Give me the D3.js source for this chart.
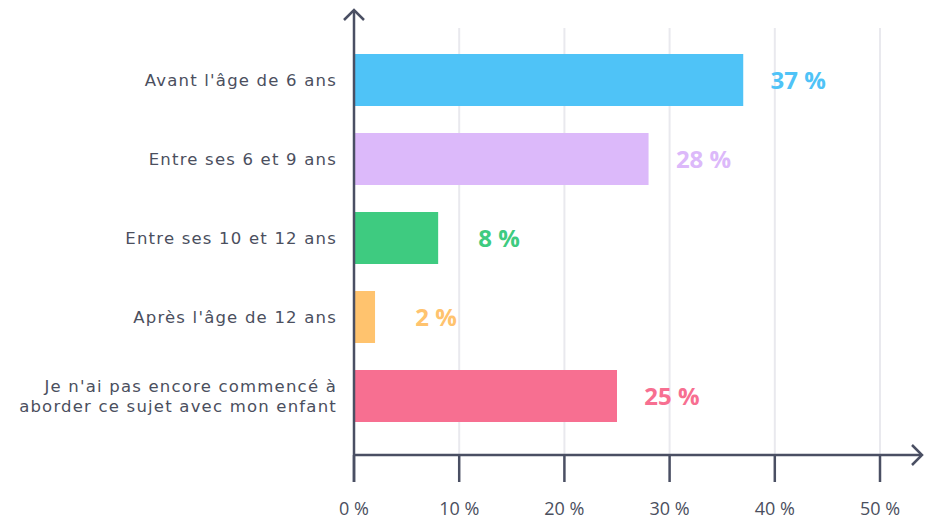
<!DOCTYPE html>
<html>
<head>
<meta charset="utf-8">
<script src="https://cdn.jsdelivr.net/npm/d3@7"></script>
<style>
  body { margin: 0; background: #fff; }
  text { font-family: "Open Sans", "Noto Sans", sans-serif; }
</style>
</head>
<body>
<div id="chart"></div>
<script>
// data
var categories = [
    ["Avant l'âge de 6 ans"],
    ["Entre ses 6 et 9 ans"],
    ["Entre ses 10 et 12 ans"],
    ["Après l'âge de 12 ans"],
    ["Je n'ai pas encore commencé à", "aborder ce sujet avec mon enfant"]
];
var values = [37, 28, 8, 2, 25];
var colors = ["#4fc3f7", "#dcb9fa", "#3ecb80", "#ffc36e", "#f76f91"];
var ticks = [0, 10, 20, 30, 40, 50];

var width = 926, height = 519;
var axisColor = "#4a4f63";

var svg = d3.select("#chart")
    .append("svg")
    .attr("width", width)
    .attr("height", height);

// scales
var x = d3.scaleLinear().domain([0, 50]).range([354, 880]);
var y = d3.scaleBand()
    .domain(d3.range(values.length))
    .range([40.5, 435.5])
    .paddingInner(0.342)
    .paddingOuter(0.171);

var axisY = 455;

// grid lines
svg.selectAll(".grid")
    .data(ticks.slice(1))
    .enter().append("line")
    .attr("x1", function (d) { return x(d); })
    .attr("x2", function (d) { return x(d); })
    .attr("y1", 28)
    .attr("y2", axisY)
    .style("stroke", "#e9e9ee")
    .style("stroke-width", 2);

// bars
svg.selectAll(".bar")
    .data(values)
    .enter().append("rect")
    .attr("x", x(0))
    .attr("y", function (d, i) { return y(i); })
    .attr("width", function (d) { return x(d) - x(0); })
    .attr("height", y.bandwidth())
    .style("fill", function (d, i) { return colors[i]; });

// value labels
svg.selectAll(".val")
    .data(values)
    .enter().append("text")
    .attr("x", function (d) { return x(d) + (d < 10 ? 61 : 55); })
    .attr("y", function (d, i) { return y(i) + y.bandwidth() / 2; })
    .attr("dy", "0.36em")
    .attr("text-anchor", "middle")
    .style("font-size", "24px")
    .style("font-weight", "bold")
    .style("fill", function (d, i) { return colors[i]; })
    .text(function (d) { return d + " %"; });

// category labels
var cat = svg.selectAll(".cat")
    .data(categories)
    .enter().append("text")
    .attr("text-anchor", "end")
    .style("font-family", "'DejaVu Sans', sans-serif")
    .style("font-size", "16.5px")
    .style("letter-spacing", "1.2px")
    .style("fill", "#4b4f5e")
    .attr("transform", function (d, i) {
        return "translate(337," + (y(i) + y.bandwidth() / 2) + ")";
    });
cat.selectAll("tspan")
    .data(function (d) { return d; })
    .enter().append("tspan")
    .attr("x", 0)
    .attr("y", function (d, j, nodes) {
        return (j - (nodes.length - 1) / 2) * 20;
    })
    .attr("dy", "0.35em")
    .text(function (d) { return d; });

// x axis line + ticks
svg.append("line")
    .attr("x1", x(0)).attr("x2", 921)
    .attr("y1", axisY).attr("y2", axisY)
    .style("stroke", axisColor).style("stroke-width", 2.5);
svg.append("path")
    .attr("d", "M912,445 L922,455 L912,465")
    .style("fill", "none").style("stroke", axisColor).style("stroke-width", 2.5);

svg.selectAll(".tick")
    .data(ticks)
    .enter().append("line")
    .attr("x1", function (d) { return x(d); })
    .attr("x2", function (d) { return x(d); })
    .attr("y1", axisY)
    .attr("y2", 482)
    .style("stroke", axisColor).style("stroke-width", 2.5);

svg.selectAll(".tickLabel")
    .data(ticks)
    .enter().append("text")
    .attr("x", function (d) { return x(d); })
    .attr("y", 515)
    .attr("text-anchor", "middle")
    .style("font-size", "18px")
    .style("fill", "#4b4f5e")
    .text(function (d) { return d + " %"; });

// y axis line + arrow
svg.append("line")
    .attr("x1", x(0)).attr("x2", x(0))
    .attr("y1", 10).attr("y2", 482)
    .style("stroke", axisColor).style("stroke-width", 2.5);
svg.append("path")
    .attr("d", "M344,20 L354,10 L364,20")
    .style("fill", "none").style("stroke", axisColor).style("stroke-width", 2.5);
</script>
</body>
</html>
